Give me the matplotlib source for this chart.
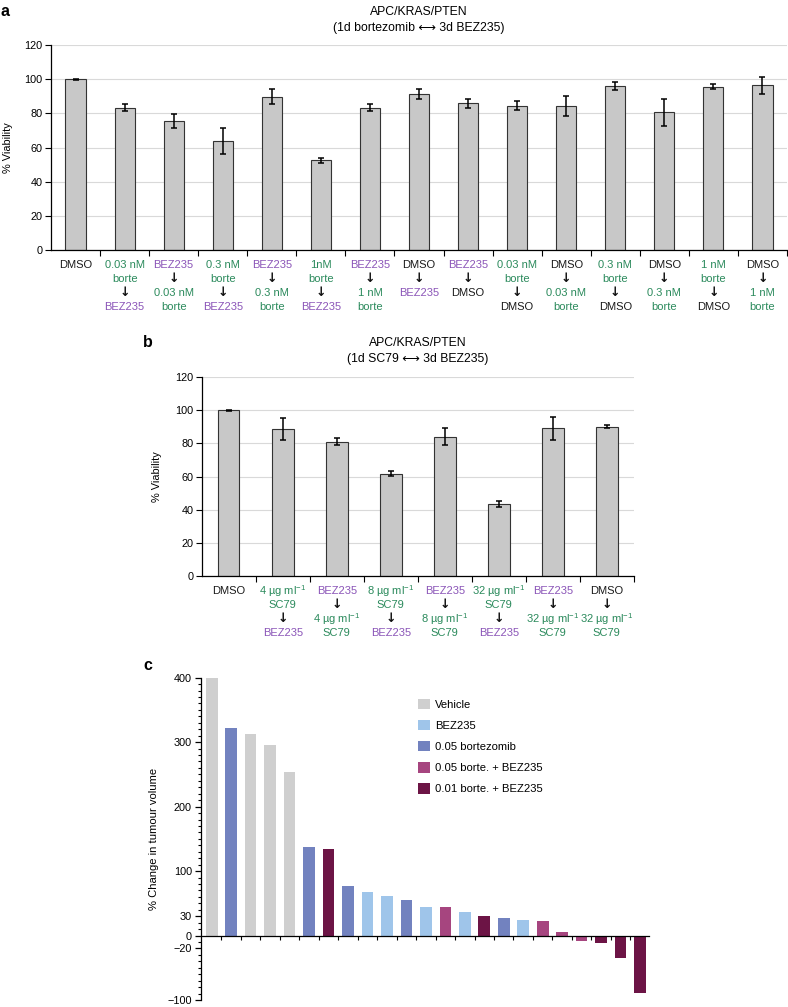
import numpy as np
import matplotlib.pyplot as plt
from matplotlib.patches import Patch
from matplotlib.ticker import MultipleLocator

plt.rcParams['font.family'] = ['Liberation Sans', 'DejaVu Sans']
plt.rcParams['mathtext.fontset'] = 'custom'
plt.rcParams['mathtext.rm'] = 'Liberation Sans'
plt.rcParams['mathtext.it'] = 'Liberation Sans:italic'
plt.rcParams['mathtext.bf'] = 'Liberation Sans:bold'

# text colours used in the category labels
COLORS = {'g': '#2b8a5c', 'p': '#8b55b8', 'k': '#1a1a1a', 'a': '#111111'}

# ---- panel a data ----
a_viab = [100, 83.4, 75.6, 63.7, 89.7, 52.4, 83.4, 91.2, 85.8, 84.4, 84.2, 96.1, 80.5, 95.7, 96.3]
a_err = [0.3, 2.2, 4.0, 7.7, 4.5, 1.3, 2.2, 3.0, 2.4, 2.6, 6.0, 2.2, 7.7, 1.4, 5.2]
a_labels = [
    [('DMSO', 'k')],
    [('0.03 nM', 'g'), ('borte', 'g'), ('↓', 'a'), ('BEZ235', 'p')],
    [('BEZ235', 'p'), ('↓', 'a'), ('0.03 nM', 'g'), ('borte', 'g')],
    [('0.3 nM', 'g'), ('borte', 'g'), ('↓', 'a'), ('BEZ235', 'p')],
    [('BEZ235', 'p'), ('↓', 'a'), ('0.3 nM', 'g'), ('borte', 'g')],
    [('1nM', 'g'), ('borte', 'g'), ('↓', 'a'), ('BEZ235', 'p')],
    [('BEZ235', 'p'), ('↓', 'a'), ('1 nM', 'g'), ('borte', 'g')],
    [('DMSO', 'k'), ('↓', 'a'), ('BEZ235', 'p')],
    [('BEZ235', 'p'), ('↓', 'a'), ('DMSO', 'k')],
    [('0.03 nM', 'g'), ('borte', 'g'), ('↓', 'a'), ('DMSO', 'k')],
    [('DMSO', 'k'), ('↓', 'a'), ('0.03 nM', 'g'), ('borte', 'g')],
    [('0.3 nM', 'g'), ('borte', 'g'), ('↓', 'a'), ('DMSO', 'k')],
    [('DMSO', 'k'), ('↓', 'a'), ('0.3 nM', 'g'), ('borte', 'g')],
    [('1 nM', 'g'), ('borte', 'g'), ('↓', 'a'), ('DMSO', 'k')],
    [('DMSO', 'k'), ('↓', 'a'), ('1 nM', 'g'), ('borte', 'g')],
]

# ---- panel b data ----
b_viab = [100, 88.4, 80.9, 61.8, 84.1, 43.4, 89.0, 90.0]
b_err = [0.3, 6.6, 2.1, 1.6, 5.4, 2.0, 6.7, 1.0]
b_labels = [
    [('DMSO', 'k')],
    [(r'4 µg ml$^{-1}$', 'g'), ('SC79', 'g'), ('↓', 'a'), ('BEZ235', 'p')],
    [('BEZ235', 'p'), ('↓', 'a'), (r'4 µg ml$^{-1}$', 'g'), ('SC79', 'g')],
    [(r'8 µg ml$^{-1}$', 'g'), ('SC79', 'g'), ('↓', 'a'), ('BEZ235', 'p')],
    [('BEZ235', 'p'), ('↓', 'a'), (r'8 µg ml$^{-1}$', 'g'), ('SC79', 'g')],
    [(r'32 µg ml$^{-1}$', 'g'), ('SC79', 'g'), ('↓', 'a'), ('BEZ235', 'p')],
    [('BEZ235', 'p'), ('↓', 'a'), (r'32 µg ml$^{-1}$', 'g'), ('SC79', 'g')],
    [('DMSO', 'k'), ('↓', 'a'), (r'32 µg ml$^{-1}$', 'g'), ('SC79', 'g')],
]

# ---- panel c data ----
c_groups = ['Vehicle', 'BEZ235', '0.05 bortezomib', '0.05 borte. + BEZ235', '0.01 borte. + BEZ235']
c_colors = ['#cfcfcf', '#9fc5ea', '#7282bf', '#a6457f', '#6c1445']
c_change = [399, 322, 313, 295, 254, 137, 134, 77, 67, 61, 55, 44, 43.5, 36, 30,
            27, 24, 22, 6, -9, -11, -35, -89]
c_group_of = [0, 2, 0, 0, 0, 2, 4, 2, 1, 1, 2, 1, 3, 1, 4,
              2, 1, 3, 3, 3, 4, 4, 4]

W, H = 788, 1007
fig = plt.figure(figsize=(W / 100, H / 100), dpi=100)


def px_axes(left, top, right, bottom):
    return fig.add_axes([left / W, 1 - bottom / H, (right - left) / W, (bottom - top) / H])


LINE_OFFS = [15, 29, 43, 57]


def viability_panel(ax, vals, errs, labels, width, label_x):
    x = np.arange(len(vals))
    ax.bar(x, vals, width, color='#c8c8c8', edgecolor='#333333', linewidth=0.8, zorder=2)
    ax.errorbar(x, vals, yerr=errs, fmt='none', ecolor='black', elinewidth=1.1,
                capsize=2, capthick=1.1, zorder=3)
    ax.set_xlim(-0.5, len(vals) - 0.5)
    ax.set_ylim(0, 120)
    ax.set_yticks(range(0, 121, 20))
    ax.yaxis.grid(True, color='#d9d9d9', lw=0.8)
    ax.set_axisbelow(True)
    for s in ['top', 'right']:
        ax.spines[s].set_visible(False)
    ax.spines['left'].set_linewidth(0.9)
    ax.spines['bottom'].set_linewidth(0.9)
    ax.set_xticks(np.arange(0.5, len(vals), 1))
    ax.set_xticklabels([])
    ax.tick_params(axis='x', length=4, width=0.8, direction='out')
    ax.tick_params(axis='y', length=4, width=0.8, labelsize=7.8, pad=2)
    ax.set_ylabel('% Viability', fontsize=7.9)
    ax.yaxis.set_label_coords(label_x, 0.5)
    for i, lines in enumerate(labels):
        for j, (txt, c) in enumerate(lines):
            if c == 'a':
                # heavy down arrow between the two treatments
                ax.annotate(txt, xy=(i, 0), xycoords=('data', 'axes fraction'),
                            xytext=(0, -LINE_OFFS[j]), textcoords='offset pixels',
                            ha='center', va='center', color=COLORS[c], fontsize=9,
                            family='DejaVu Sans', fontweight='bold')
            else:
                ax.annotate(txt, xy=(i, 0), xycoords=('data', 'axes fraction'),
                            xytext=(0, -LINE_OFFS[j]), textcoords='offset pixels',
                            ha='center', va='center', color=COLORS[c], fontsize=8)


# panel a
ax_a = px_axes(51, 45, 787, 250)
viability_panel(ax_a, a_viab, a_err, a_labels, 0.41, -0.051)
fig.text(419 / W, 1 - 12 / H, 'APC/KRAS/PTEN', ha='center', va='center', fontsize=8.8)
fig.text(419 / W, 1 - 27.5 / H, '(1d bortezomib ⟷ 3d BEZ235)', ha='center', va='center', fontsize=8.8)
fig.text(5 / W, 1 - 12 / H, 'a', ha='center', va='center', fontsize=11.5, fontweight='bold')

# panel b
ax_b = px_axes(201.7, 377, 633.7, 576)
viability_panel(ax_b, b_viab, b_err, b_labels, 0.4, -0.092)
fig.text(418 / W, 1 - 343 / H, 'APC/KRAS/PTEN', ha='center', va='center', fontsize=8.8)
fig.text(418 / W, 1 - 359 / H, '(1d SC79 ⟷ 3d BEZ235)', ha='center', va='center', fontsize=8.8)
fig.text(148 / W, 1 - 343 / H, 'b', ha='center', va='center', fontsize=11.5, fontweight='bold')

# panel c
ax_c = px_axes(201, 677.7, 649, 1000)
xc = np.arange(len(c_change))
ax_c.bar(xc, c_change, 0.6, color=[c_colors[g] for g in c_group_of], linewidth=0)
ax_c.set_xlim(-0.55, len(c_change) - 0.54)
ax_c.set_ylim(-100, 400)
ax_c.set_yticks([-100, -20, 0, 30, 100, 200, 300, 400])
ax_c.yaxis.set_minor_locator(MultipleLocator(10))
ax_c.tick_params(axis='y', which='major', length=4.5, width=0.9, labelsize=7.8, pad=2)
ax_c.tick_params(axis='y', which='minor', length=2.5, width=0.8)
for s in ['top', 'right']:
    ax_c.spines[s].set_visible(False)
ax_c.spines['bottom'].set_position(('data', 0))
ax_c.spines['left'].set_linewidth(0.9)
ax_c.spines['bottom'].set_linewidth(0.9)
ax_c.set_xticks(np.arange(0.5, len(c_change) - 1, 1))
ax_c.set_xticklabels([])
ax_c.tick_params(axis='x', length=3, width=0.8, direction='out')
ax_c.set_ylabel('% Change in tumour volume', fontsize=8.1)
ax_c.yaxis.set_label_coords(-0.094, 0.5)
handles = [Patch(facecolor=c, edgecolor='none') for c in c_colors]
ax_c.legend(handles, c_groups, loc='upper left', bbox_to_anchor=(0.484, 0.935),
            frameon=False, fontsize=8.1, handlelength=1.05, handleheight=1.05,
            handletextpad=0.5, labelspacing=0.9, borderpad=0, borderaxespad=0)
fig.text(148 / W, 1 - 665 / H, 'c', ha='center', va='center', fontsize=11.5, fontweight='bold')

fig.savefig('out.png', dpi=100)
